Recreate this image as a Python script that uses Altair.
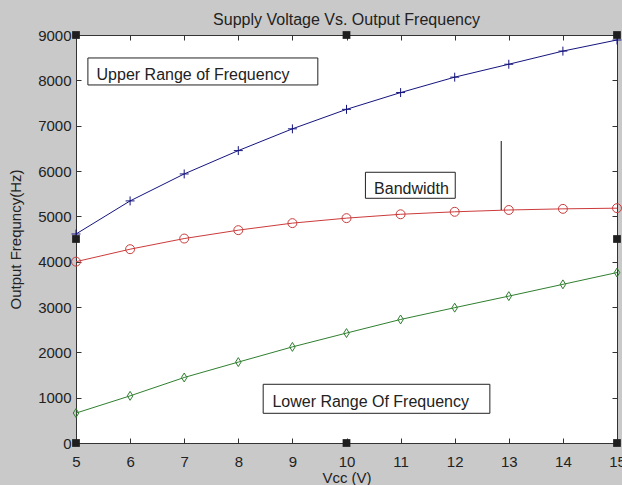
import altair as alt
import pandas as pd

# ---- data ----
vcc = [5, 6, 7, 8, 9, 10, 11, 12, 13, 14, 15]
upper_hz = [4610, 5340, 5935, 6450, 6930, 7360, 7730, 8070, 8355, 8645, 8890]
band_hz = [4000, 4275, 4510, 4695, 4850, 4960, 5045, 5100, 5140, 5165, 5180]
lower_hz = [660, 1040, 1445, 1785, 2120, 2425, 2725, 2985, 3240, 3500, 3760]

series_names = ["Upper", "Bandwidth", "Lower"]
series_colors = ["#14147e", "#cc3b3b", "#2f7f2f"]
series_shapes = ["M-1,0L1,0M0,-1L0,1", "circle", "M0,-1L0.62,0L0,1L-0.62,0Z"]

x_ticks = [5, 6, 7, 8, 9, 10, 11, 12, 13, 14, 15]
y_ticks = [0, 1000, 2000, 3000, 4000, 5000, 6000, 7000, 8000, 9000]

# annotation boxes (data units)
label_text = ["Upper Range of Frequency", "Bandwidth", "Lower Range Of Frequency"]
box_x0 = [5.22, 10.35, 8.46]
box_x1 = [9.47, 12.01, 12.65]
box_y0 = [7898, 5398, 655]
box_y1 = [8493, 5972, 1295]
text_x = [5.38, 10.51, 8.63]
text_y = [8008, 5493, 788]

# vertical marker line
vline_x = [12.86]
vline_y0 = [5140]
vline_y1 = [6662]

# selection handles on the axes box
handle_x = [5, 10, 15, 5, 15, 5, 10, 15]
handle_y = [9000, 9000, 9000, 4500, 4500, 0, 0, 0]

# ---- tables ----
rows = []
for name, vals in zip(series_names, [upper_hz, band_hz, lower_hz]):
    for v, f in zip(vcc, vals):
        rows.append({"Vcc": v, "Freq": f, "Series": name})
df = pd.DataFrame(rows)
ann = pd.DataFrame({"label": label_text, "x0": box_x0, "x1": box_x1,
                    "y0": box_y0, "y1": box_y1, "tx": text_x, "ty": text_y})
vl = pd.DataFrame({"x": vline_x, "y0": vline_y0, "y1": vline_y1})
hd = pd.DataFrame({"x": handle_x, "y": handle_y})

FONT = "Liberation Sans"
x_scale = alt.Scale(domain=[5, 15], nice=False)
y_scale = alt.Scale(domain=[0, 9000], nice=False)
color_scale = alt.Scale(domain=series_names, range=series_colors)
shape_scale = alt.Scale(domain=series_names, range=series_shapes)

x_bottom = alt.Axis(orient="bottom", values=x_ticks, tickSize=5, offset=-5, domain=False,
                    grid=False, labelPadding=11, titlePadding=1, labelFlush=False)
y_left = alt.Axis(orient="left", values=y_ticks, tickSize=5, offset=-5, domain=False,
                  grid=False, labelPadding=5, titlePadding=14, format="d")
x_top = alt.Axis(orient="top", values=x_ticks, tickSize=5, offset=-5, domain=False,
                 grid=False, labels=False, title=None)
y_right = alt.Axis(orient="right", values=y_ticks, tickSize=5, offset=-5, domain=False,
                   grid=False, labels=False, title=None)

base = alt.Chart(df)

lines = base.mark_line(strokeWidth=1, clip=True).encode(
    x=alt.X("Vcc:Q", scale=x_scale, axis=x_bottom, title="Vcc (V)"),
    y=alt.Y("Freq:Q", scale=y_scale, axis=y_left, title="Output Frequncy(Hz)"),
    color=alt.Color("Series:N", scale=color_scale, legend=None),
    detail="Series:N",
)

points = base.mark_point(filled=False, strokeWidth=1, size=80, opacity=1).encode(
    x=alt.X("Vcc:Q", scale=x_scale, axis=None),
    y=alt.Y("Freq:Q", scale=y_scale, axis=None),
    color=alt.Color("Series:N", scale=color_scale, legend=None),
    shape=alt.Shape("Series:N", scale=shape_scale, legend=None),
)

rule = alt.Chart(vl).mark_rule(color="#111111", strokeWidth=1).encode(
    x=alt.X("x:Q", scale=x_scale, axis=None),
    y=alt.Y("y0:Q", scale=y_scale, axis=None),
    y2="y1:Q",
)

boxes = alt.Chart(ann).mark_rect(fill="white", stroke="#222222", strokeWidth=1).encode(
    x=alt.X("x0:Q", scale=x_scale, axis=None),
    x2="x1:Q",
    y=alt.Y("y0:Q", scale=y_scale, axis=None),
    y2="y1:Q",
)

texts = alt.Chart(ann).mark_text(align="left", baseline="alphabetic", font=FONT,
                                 fontSize=16, color="#222222").encode(
    x=alt.X("tx:Q", scale=x_scale, axis=None),
    y=alt.Y("ty:Q", scale=y_scale, axis=None),
    text="label:N",
)

handles = alt.Chart(hd).mark_square(size=60, color="#1e1e1e", opacity=1).encode(
    x=alt.X("x:Q", scale=x_scale, axis=x_top),
    y=alt.Y("y:Q", scale=y_scale, axis=y_right),
)

chart = alt.layer(lines, points, rule, boxes, texts, handles).resolve_axis(
    x="independent", y="independent"
).properties(
    width=541,
    height=408,
    autosize=alt.AutoSizeParams(type="none"),
    padding={"left": 76, "top": 35, "right": 5, "bottom": 42},
    title=alt.TitleParams("Supply Voltage Vs. Output Frequency", font=FONT, fontSize=16,
                          fontWeight="normal", color="#222222", offset=0),
).configure(
    background="#c9c9c9"
).configure_view(
    fill="white", stroke="#333333", strokeWidth=1
).configure_axis(
    labelFont=FONT, labelFontSize=15, labelColor="#222222",
    titleFont=FONT, titleFontSize=15, titleFontWeight="normal", titleColor="#222222",
    tickColor="#333333", tickWidth=1,
)

chart.save("out.html", embed_options={"renderer": "svg", "actions": False})
